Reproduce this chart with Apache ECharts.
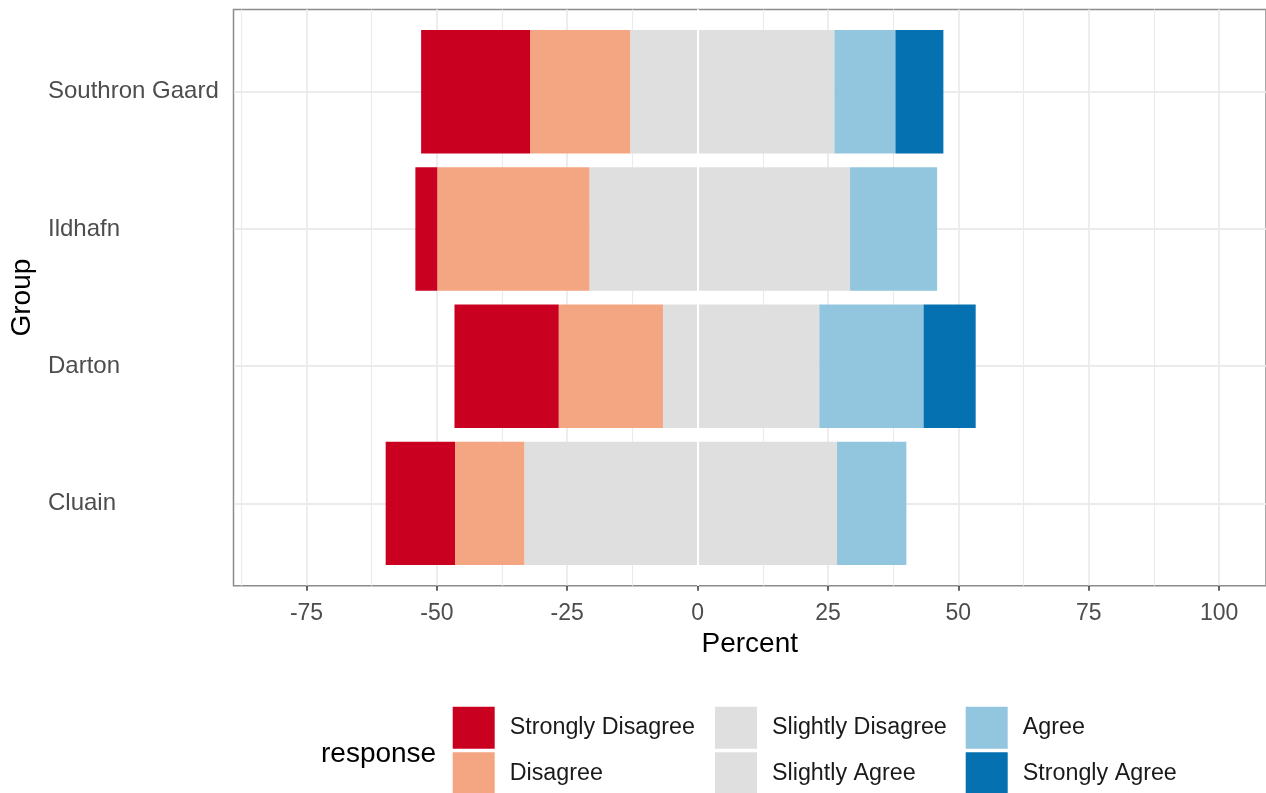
<!DOCTYPE html>
<html><head><meta charset="utf-8">
<script src="https://cdn.jsdelivr.net/npm/echarts@6/dist/echarts.min.js"></script>
<style>html,body{margin:0;padding:0;background:#fff}#c{width:1266px;height:793px}</style>
</head><body><div id="c"></div>
<script>
// ---- data ----
const groups = ['Cluain', 'Darton', 'Ildhafn', 'Southron Gaard'];
const responses = ['Strongly Disagree', 'Disagree', 'Slightly Disagree', 'Slightly Agree', 'Agree', 'Strongly Agree'];
const stronglyDisagree = [13.3, 20.0, 4.2, 20.9];
const disagree         = [13.3, 20.0, 29.2, 19.2];
const slightlyDisagree = [33.3, 6.7, 20.8, 13.0];
const slightlyAgree    = [26.7, 23.3, 29.2, 26.2];
const agree            = [13.3, 20.0, 16.7, 11.7];
const stronglyAgree    = [0, 10.0, 0, 9.2];
const xTickValues  = [-75, -50, -25, 0, 25, 50, 75, 100];
const xMinorValues = [-87.5, -62.5, -37.5, -12.5, 12.5, 37.5, 62.5, 87.5];
const xLimits = [-89, 109];

// ---- styling ----
const palette = {
  'Strongly Disagree': '#ca0020',
  'Disagree': '#f4a582',
  'Slightly Disagree': '#dfdfdf',
  'Slightly Agree': '#dfdfdf',
  'Agree': '#92c5de',
  'Strongly Agree': '#0571b0'
};
const FONT = 'Liberation Sans, Arial, Helvetica, sans-serif';
const PANEL = {left: 233.5, top: 9.5, width: 1033, height: 576.2};
const unit = PANEL.height / 4.2;
const BARS = {left: PANEL.left, width: PANEL.width, top: PANEL.top + 0.6 * unit - 0.5 * unit, height: 4 * unit};

const values = {
  'Strongly Disagree': stronglyDisagree,
  'Disagree': disagree,
  'Slightly Disagree': slightlyDisagree,
  'Slightly Agree': slightlyAgree,
  'Agree': agree,
  'Strongly Agree': stronglyAgree
};
const negatives = ['Slightly Disagree', 'Disagree', 'Strongly Disagree'];
const positives = ['Slightly Agree', 'Agree', 'Strongly Agree'];

const barSeries = negatives.concat(positives).map(name => ({
  name: name,
  type: 'bar',
  xAxisIndex: 1,
  yAxisIndex: 1,
  stack: 'likert',
  barCategoryGap: '10%',
  z: 2,
  itemStyle: {color: palette[name]},
  emphasis: {disabled: true},
  data: values[name].map(v => negatives.includes(name) ? -v : v)
}));

const gridSeries = {
  type: 'line', xAxisIndex: 0, yAxisIndex: 0, data: [], z: 0, silent: true,
  markLine: {
    z: 0, silent: true, symbol: 'none', animation: false, label: {show: false},
    data: xMinorValues.map(v => ({xAxis: v, lineStyle: {color: '#ebebeb', width: 1.1, type: 'solid'}}))
      .concat(xTickValues.map(v => ({xAxis: v, lineStyle: {color: '#ebebeb', width: 1.8, type: 'solid'}})))
  }
};
const hGridSeries = {
  type: 'line', xAxisIndex: 1, yAxisIndex: 1, data: [], z: 0, silent: true,
  markLine: {
    z: 0, silent: true, symbol: 'none', animation: false, label: {show: false},
    data: groups.map(g => ({yAxis: g, lineStyle: {color: '#ebebeb', width: 1.8, type: 'solid'}}))
  }
};
const zeroSeries = {
  type: 'line', xAxisIndex: 0, yAxisIndex: 0, data: [], z: 10, silent: true,
  markLine: {
    z: 10, silent: true, symbol: 'none', animation: false, label: {show: false},
    data: [{xAxis: 0, lineStyle: {color: '#ffffff', width: 2, type: 'solid'}}]
  }
};

const legendCommon = {
  orient: 'vertical', icon: 'rect', itemWidth: 42, itemHeight: 42, itemGap: 3.6,
  selectedMode: false, padding: 0, height: 120,
  textStyle: {fontFamily: FONT, fontSize: 23.3, color: '#1a1a1a', padding: [4, 0, 0, 10]}
};

const option = {
  animation: false,
  backgroundColor: '#ffffff',
  title: {
    text: 'response', left: 321, top: 740, padding: 0,
    textStyle: {fontFamily: FONT, fontSize: 28, fontWeight: 'normal', color: '#000000'}
  },
  legend: [
    Object.assign({}, legendCommon, {left: 452.7, top: 706.7, data: ['Strongly Disagree', 'Disagree']}),
    Object.assign({}, legendCommon, {left: 715, top: 706.7, data: ['Slightly Disagree', 'Slightly Agree']}),
    Object.assign({}, legendCommon, {left: 965.7, top: 706.7, data: ['Agree', 'Strongly Agree']})
  ],
  grid: [
    {left: PANEL.left, top: PANEL.top, width: PANEL.width, height: PANEL.height,
     show: true, borderColor: '#8c8c8c', borderWidth: 1.5, backgroundColor: '#ffffff', containLabel: false},
    {left: BARS.left, top: BARS.top, width: BARS.width, height: BARS.height, show: false, containLabel: false}
  ],
  xAxis: [
    {
      type: 'value', gridIndex: 0, min: xLimits[0], max: xLimits[1],
      name: 'Percent', nameLocation: 'middle', nameGap: 45,
      nameTextStyle: {fontFamily: FONT, fontSize: 28, color: '#000000'},
      axisLine: {show: false},
      axisTick: {show: true, length: 5, customValues: xTickValues, lineStyle: {color: '#333333', width: 1.5}},
      axisLabel: {show: true, customValues: xTickValues, margin: 16, fontFamily: FONT, fontSize: 23, color: '#4d4d4d'},
      splitLine: {show: false}
    },
    {
      type: 'value', gridIndex: 1, min: xLimits[0], max: xLimits[1], show: false,
      splitLine: {show: false}
    }
  ],
  yAxis: [
    {type: 'value', gridIndex: 0, min: 0, max: 1, show: false, splitLine: {show: false}},
    {
      type: 'category', gridIndex: 1, data: groups,
      name: 'Group', nameLocation: 'middle', nameGap: 198,
      nameTextStyle: {fontFamily: FONT, fontSize: 28, color: '#000000'},
      axisLine: {show: false},
      axisTick: {show: true, alignWithLabel: true, length: 5, lineStyle: {color: '#333333', width: 1.5}},
      axisLabel: {margin: 186, align: 'left', fontFamily: FONT, fontSize: 24, color: '#4d4d4d', padding: [3, 0, 0, 0]},
      splitLine: {show: false}
    }
  ],
  series: [gridSeries, hGridSeries].concat(barSeries).concat([zeroSeries])
};

const chart = echarts.init(document.getElementById('c'), null, {renderer: 'canvas'});
chart.setOption(option);
</script>
</body></html>
